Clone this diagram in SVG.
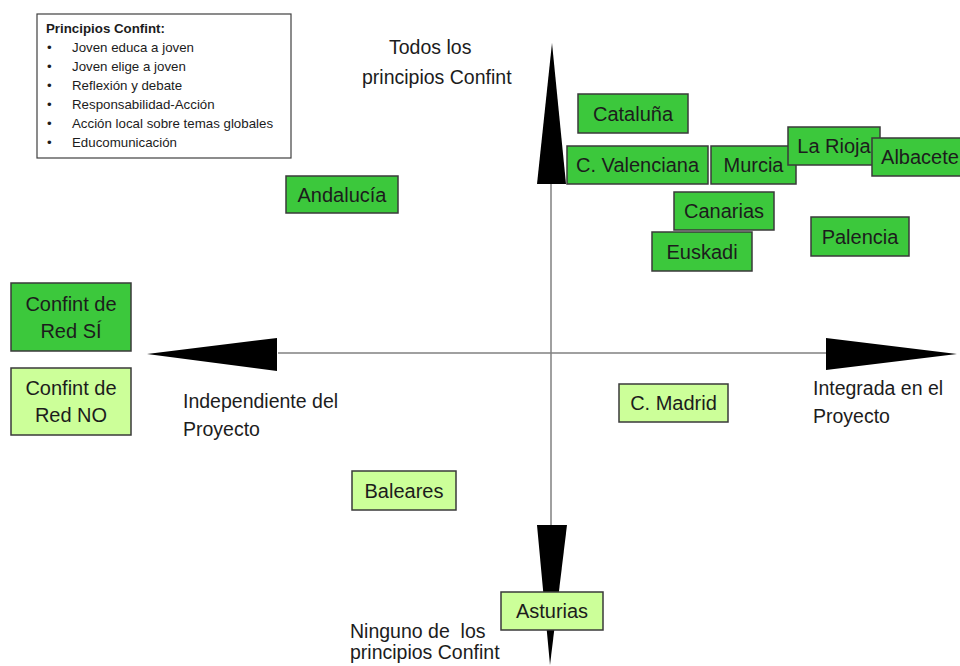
<svg xmlns="http://www.w3.org/2000/svg" width="960" height="666" viewBox="0 0 960 666">
<style>
.box{stroke:#3a3a3a;stroke-width:1.5}
.yes{fill:#3cc83c}
.no{fill:#ccff99}
.bt{font-family:"Liberation Sans",Arial,sans-serif;font-size:20px;fill:#1c1c1c;text-anchor:middle;dominant-baseline:central}
.ax{font-family:"Liberation Sans",Arial,sans-serif;font-size:19.5px;fill:#1c1c1c}
.lg{font-family:"Liberation Sans",Arial,sans-serif;font-size:13.3px;fill:#1c1c1c}
.axis{stroke:#808080;stroke-width:1.5}
.head{fill:#000}
</style>
<rect width="960" height="666" fill="#fff"/>
<g id="connectors">
<line class="axis" x1="278" y1="353" x2="826" y2="353"/>
<line class="axis" x1="551" y1="183" x2="551" y2="525"/>
<polygon class="head" points="147,354 277,338 277,371"/>
<polygon class="head" points="957,354 826,338 826,370"/>
<polygon class="head" points="552,43 537,184 566,184"/>
<polygon class="head" points="550,665 537,525 567,525"/>
</g>
<g id="legend">
<rect x="37" y="14" width="254" height="144" fill="#fff" stroke="#404040" stroke-width="1.2"/>
<text class="lg" x="46" y="33" font-weight="bold" font-size="12.3">Principios Confint:</text>
<g class="lg">
<text x="47" y="52">•</text><text x="72" y="52">Joven educa a joven</text>
<text x="47" y="71">•</text><text x="72" y="71">Joven elige a joven</text>
<text x="47" y="90">•</text><text x="72" y="90">Reflexión y debate</text>
<text x="47" y="109">•</text><text x="72" y="109">Responsabilidad-Acción</text>
<text x="47" y="128">•</text><text x="72" y="128">Acción local sobre temas globales</text>
<text x="47" y="147">•</text><text x="72" y="147">Educomunicación</text>
</g>
</g>
<g id="axis-labels">
<text class="ax" x="389" y="54">Todos los</text>
<text class="ax" x="362" y="84">principios Confint</text>
<text class="ax" x="183" y="408">Independiente del</text>
<text class="ax" x="183" y="436">Proyecto</text>
<text class="ax" x="813" y="395">Integrada en el</text>
<text class="ax" x="813" y="423">Proyecto</text>
<text class="ax" x="350" y="638" xml:space="preserve">Ninguno de  los</text>
<text class="ax" x="350" y="659">principios Confint</text>
</g>
<g id="confint-si"><rect class="box yes" x="11" y="283" width="120" height="68"/><text class="bt" x="71" y="304">Confint de</text><text class="bt" x="71" y="331">Red SÍ</text></g>
<g id="confint-no"><rect class="box no" x="11" y="368" width="120" height="67"/><text class="bt" x="71" y="388">Confint de</text><text class="bt" x="71" y="415">Red NO</text></g>
<g id="andalucia"><rect class="box yes" x="286" y="176" width="112" height="37"/><text class="bt" x="342" y="194.5">Andalucía</text></g>
<g id="cataluna"><rect class="box yes" x="578" y="94" width="110" height="39"/><text class="bt" x="633" y="113.5">Cataluña</text></g>
<g id="c-valenciana"><rect class="box yes" x="567" y="146" width="141" height="38"/><text class="bt" x="637.5" y="165">C. Valenciana</text></g>
<g id="murcia"><rect class="box yes" x="711" y="146" width="85" height="38"/><text class="bt" x="753.5" y="165">Murcia</text></g>
<g id="la-rioja"><rect class="box yes" x="788" y="127" width="92" height="38"/><text class="bt" x="834" y="146">La Rioja</text></g>
<g id="albacete"><rect class="box yes" x="872" y="138" width="92" height="38"/><text class="bt" x="920" y="157">Albacete</text></g>
<g id="canarias"><rect class="box yes" x="674" y="192" width="100" height="38"/><text class="bt" x="724" y="211">Canarias</text></g>
<g id="euskadi"><rect class="box yes" x="652" y="232" width="100" height="39"/><text class="bt" x="702" y="251.5">Euskadi</text></g>
<g id="palencia"><rect class="box yes" x="811" y="217" width="98" height="39"/><text class="bt" x="860" y="236.5">Palencia</text></g>
<g id="c-madrid"><rect class="box no" x="619" y="384" width="109" height="38"/><text class="bt" x="673.5" y="403">C. Madrid</text></g>
<g id="baleares"><rect class="box no" x="352" y="471" width="104" height="39"/><text class="bt" x="404" y="490.5">Baleares</text></g>
<g id="asturias"><rect class="box no" x="501" y="592" width="102" height="38"/><text class="bt" x="552" y="611">Asturias</text></g>
</svg>
